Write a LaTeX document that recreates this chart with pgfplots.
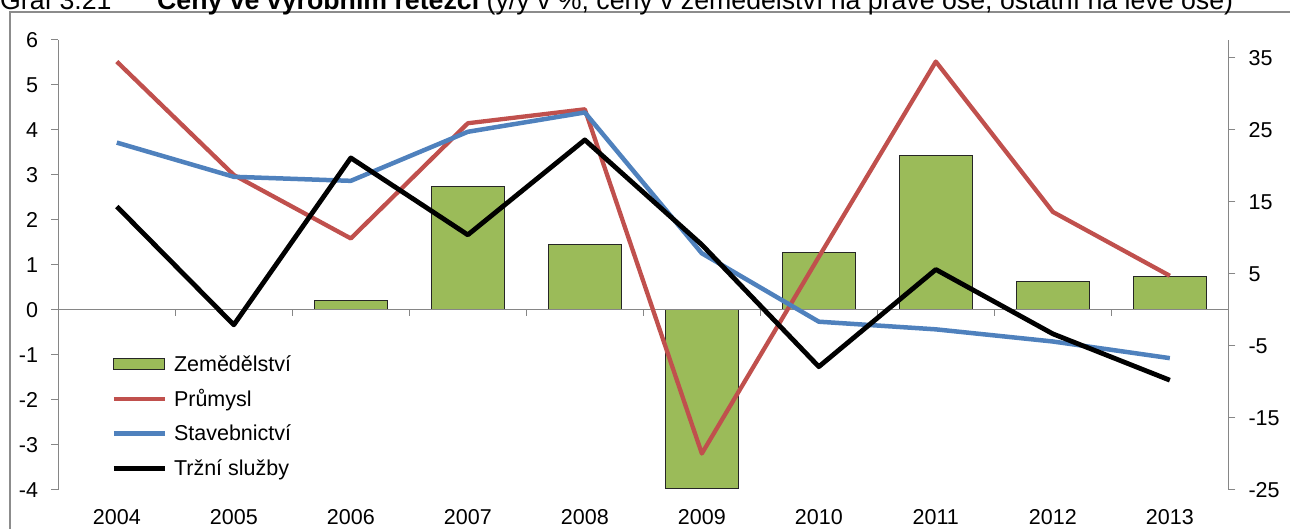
\documentclass[border=0pt]{standalone}
\usepackage{fontspec}
\setmainfont{Liberation Sans}
\usepackage{pgfplots}
\usepackage{pgfplotstable}
\pgfplotsset{compat=1.18}
\definecolor{cred}{HTML}{C0504D}
\definecolor{cblue}{HTML}{4F81BD}
\definecolor{cgreen}{HTML}{9BBB59}
\definecolor{caxis}{HTML}{868686}
\definecolor{cframe}{HTML}{8C8C8C}
\newcommand\tickfont{\fontsize{21.5}{25}\selectfont}
\newcommand\titlefont{\fontsize{26.7}{30}\selectfont}

\pgfplotstableread{
x ind con srv
0 5.52 3.72 2.30
1 3.00 2.96 -0.33
2 1.59 2.87 3.38
3 4.15 3.96 1.67
4 4.46 4.39 3.78
5 -3.19 1.26 1.45
6 1.18 -0.26 -1.26
7 5.52 -0.43 0.90
8 2.18 -0.70 -0.53
9 0.76 -1.07 -1.56
}\lines

\pgfplotstableread{
x agr
2 1.3
3 17.1
4 9.1
5 -24.8
6 8.05
7 21.4
8 3.93
9 4.63
}\bars

\begin{document}
\begin{tikzpicture}
\useasboundingbox (0pt,0pt) rectangle (1290pt,529pt);
\clip (0pt,0pt) rectangle (1290pt,529pt);
\draw[cframe, line width=1.2pt] (10pt,-5pt) -- (10pt,517pt) -- (1300pt,517pt);
\node[anchor=base west, inner sep=0pt, font=\titlefont] at (0pt,519.7pt) {Graf 3.21};
\node[anchor=base west, inner sep=0pt, font=\titlefont] at (157pt,519.7pt) {\textbf{Ceny ve výrobním řetězci} (y/y v \%; ceny v zemědělství na pravé ose, ostatní na levé ose)};

% bars on the right axis
\begin{axis}[
  at={(58.3pt,39pt)}, anchor=south west,
  scale only axis, width=1170pt, height=450pt,
  xmin=-0.5, xmax=9.5, ymin=-25, ymax=37.5,
  axis x line=none, axis y line*=right,
  y axis line style={-, caxis, line width=1pt},
  ytick={-25,-15,-5,5,15,25,35},
  yticklabels={-25,-15,-5,5,15,25,35},
  ytick style={caxis, line width=1pt},
  tick align=outside, major tick length=7pt,
  yticklabel style={font=\tickfont, inner sep=0pt, anchor=west, xshift=13pt},
]
\addplot[ybar, bar width=72.7pt, fill=cgreen, draw=black!85, line width=1pt] table[x=x, y=agr] {\bars};
\end{axis}

% lines on the left axis
\begin{axis}[
  at={(58.3pt,39pt)}, anchor=south west,
  scale only axis, width=1170pt, height=450pt,
  xmin=-0.5, xmax=9.5, ymin=-4, ymax=6,
  axis y line*=left, axis x line*=bottom,
  x axis line style={draw=none},
  y axis line style={-, caxis, line width=1pt},
  ytick={-4,-3,-2,-1,0,1,2,3,4,5,6},
  yticklabels={-4,-3,-2,-1,0,1,2,3,4,5,6},
  ytick style={caxis, line width=1pt},
  xtick={0,...,9},
  xticklabels={2004,2005,2006,2007,2008,2009,2010,2011,2012,2013},
  xtick style={draw=none},
  tick align=outside, major tick length=7pt,
  yticklabel style={font=\tickfont, inner sep=0pt, anchor=east, xshift=-13pt},
  xticklabel style={font=\tickfont, inner sep=0pt, yshift=-12pt},
  legend cell align=left,
  legend style={draw=none, fill=none, at={(0.0455,0.2949)}, anchor=north west,
    inner sep=0pt, outer sep=0pt, row sep=20.2pt, column sep=6.7pt,
    font=\tickfont, nodes={inner sep=0pt, text height=14.4pt, text depth=0pt}},
  legend image code/.code={\draw[#1] (0pt,0pt) -- (51pt,0pt);},
]
\draw[caxis, line width=1pt] (axis cs:-0.5,0) -- (axis cs:9.5,0);
\pgfplotsinvokeforeach{0.5,1.5,2.5,3.5,4.5,5.5,6.5,7.5,8.5}{
  \draw[caxis, line width=1pt] (axis cs:#1,0) -- ++(0pt,-6pt);
}
\addlegendimage{legend image code/.code={\draw[fill=cgreen, draw=black!85, line width=1pt] (0pt,-5.5pt) rectangle (51pt,5.5pt);}}
\addlegendentry{Zemědělství}
\addplot[cred, line width=4.3pt, line join=round] table[x=x, y=ind] {\lines};
\addlegendentry{Průmysl}
\addplot[cblue, line width=4.5pt, line join=round] table[x=x, y=con] {\lines};
\addlegendentry{Stavebnictví}
\addplot[black, line width=4.8pt, line join=round] table[x=x, y=srv] {\lines};
\addlegendentry{Tržní služby}
\end{axis}
\end{tikzpicture}
\end{document}
